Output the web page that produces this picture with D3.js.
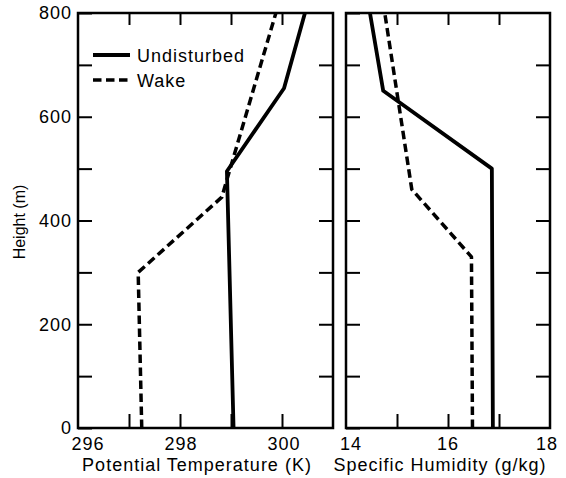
<!DOCTYPE html>
<html>
<head>
<meta charset="utf-8">
<script src="https://cdn.jsdelivr.net/npm/d3@7"></script>
<style>
  html, body { margin: 0; padding: 0; background: #fff; }
  svg { display: block; }
  text { font-family: "Liberation Sans", Arial, Helvetica, sans-serif; fill: #000; }
</style>
</head>
<body>
<svg id="chart" width="566" height="478"></svg>
<script>
// ---- data ----
const heightTicks = [0, 200, 400, 600, 800];
const heightMinor = [0, 100, 200, 300, 400, 500, 600, 700, 800];
const tempTickLabels = [296, 298, 300];
const tempTicks = [297, 298, 299, 300];
const humTickLabels = [14, 16, 18];
const humTicks = [15, 16, 17];

const undisturbedTempH = [0, 495, 655, 800];
const undisturbedTemp  = [299.05, 298.92, 300.04, 300.45];
const wakeTempH = [0, 300, 445, 800];
const wakeTemp  = [297.25, 297.18, 298.82, 299.88];

const undisturbedHumH = [0, 500, 650, 800];
const undisturbedHum  = [16.88, 16.86, 14.73, 14.47];
const wakeHumH = [0, 330, 460, 800];
const wakeHum  = [16.48, 16.46, 15.29, 14.76];

const seriesNames = ["Undisturbed", "Wake"];

// ---- layout ----
const svg = d3.select("#chart");
const yTop = 13, yBottom = 428;
const y = d3.scaleLinear().domain([0, 800]).range([yBottom, yTop]);
const xT = d3.scaleLinear().domain([296, 301]).range([78, 333]);
const xH = d3.scaleLinear().domain([14, 18]).range([346, 550]);

const fontSize = "18px";
const ls = "1px";

function panel(x, xTicks, xLabels, labelShift, showYLabels, title, titleX) {
  const g = svg.append("g");
  const [x0, x1] = x.range();
  const left = d3.axisLeft(y).tickValues(heightMinor).tickSizeInner(-14).tickSizeOuter(0)
    .tickPadding(6)
    .tickFormat(d => (showYLabels && heightTicks.includes(d)) ? d : "");
  const gl = g.append("g").attr("transform", `translate(${x0},0)`).call(left);
  const right = d3.axisRight(y).tickValues(heightMinor.filter(d => d > 0 && d < 800))
    .tickSizeInner(-14).tickSizeOuter(0).tickFormat("");
  const gr = g.append("g").attr("transform", `translate(${x1},0)`).call(right);
  const bot = d3.axisBottom(x).tickValues(xTicks).tickSizeInner(-14).tickSizeOuter(0).tickFormat("");
  const gb = g.append("g").attr("transform", `translate(0,${yBottom})`).call(bot);
  const tp = d3.axisTop(x).tickValues(xTicks).tickSizeInner(-12).tickSizeOuter(0).tickFormat("");
  const gt = g.append("g").attr("transform", `translate(0,${yTop})`).call(tp);
  [gl, gr, gb, gt].forEach(a => {
    a.select(".domain").remove();
    a.selectAll(".tick line").attr("stroke", "#000").attr("stroke-width", 2);
  });
  gl.selectAll(".tick text").style("font-size", fontSize).style("letter-spacing", ls)
    .style("font-family", '"Liberation Sans", Arial, sans-serif').attr("fill", "#000");
  g.selectAll("text.xl").data(xLabels).join("text").attr("class", "xl")
    .attr("x", (d, i) => x(d) + labelShift[i]).attr("y", 450)
    .attr("text-anchor", "middle")
    .style("font-size", fontSize).style("letter-spacing", ls)
    .text(d => d);
  g.append("rect").attr("x", x0).attr("y", yTop).attr("width", x1 - x0).attr("height", yBottom - yTop)
    .attr("fill", "none").attr("stroke", "#000").attr("stroke-width", 2.5);
  g.append("text").attr("x", titleX).attr("y", 471).attr("text-anchor", "middle")
    .style("font-size", fontSize).style("letter-spacing", ls).text(title);
  return g;
}

panel(xT, tempTicks, tempTickLabels, [10, 1, 2], true, "Potential Temperature (K)", 197);
panel(xH, humTicks, humTickLabels, [5, 0, -3], false, "Specific Humidity (g/kg)", 440);

svg.append("text").attr("transform", "translate(25,222) rotate(-90)")
  .attr("text-anchor", "middle").style("font-size", "16px").text("Height (m)");

const solidStyle = { w: 3.8, dash: null };
const dashStyle = { w: 3.5, dash: "8.5,4.5" };

function drawLine(x, hs, vs, st) {
  const pts = hs.map((h, i) => [x(vs[i]), y(h)]);
  svg.append("path").attr("d", d3.line()(pts))
    .attr("fill", "none").attr("stroke", "#000").attr("stroke-width", st.w)
    .attr("stroke-linejoin", "round")
    .attr("stroke-dasharray", st.dash);
}
drawLine(xT, undisturbedTempH, undisturbedTemp, solidStyle);
drawLine(xT, wakeTempH, wakeTemp, dashStyle);
drawLine(xH, undisturbedHumH, undisturbedHum, solidStyle);
drawLine(xH, wakeHumH, wakeHum, dashStyle);

const legend = svg.append("g");
[solidStyle, dashStyle].forEach((st, i) => {
  const ly = 55 + i * 25;
  legend.append("line").attr("x1", 93).attr("x2", 130).attr("y1", ly).attr("y2", ly)
    .attr("stroke", "#000").attr("stroke-width", st.w).attr("stroke-dasharray", st.dash);
  legend.append("text").attr("x", 137).attr("y", ly + 7)
    .style("font-size", fontSize).style("letter-spacing", ls).text(seriesNames[i]);
});
</script>
</body>
</html>
